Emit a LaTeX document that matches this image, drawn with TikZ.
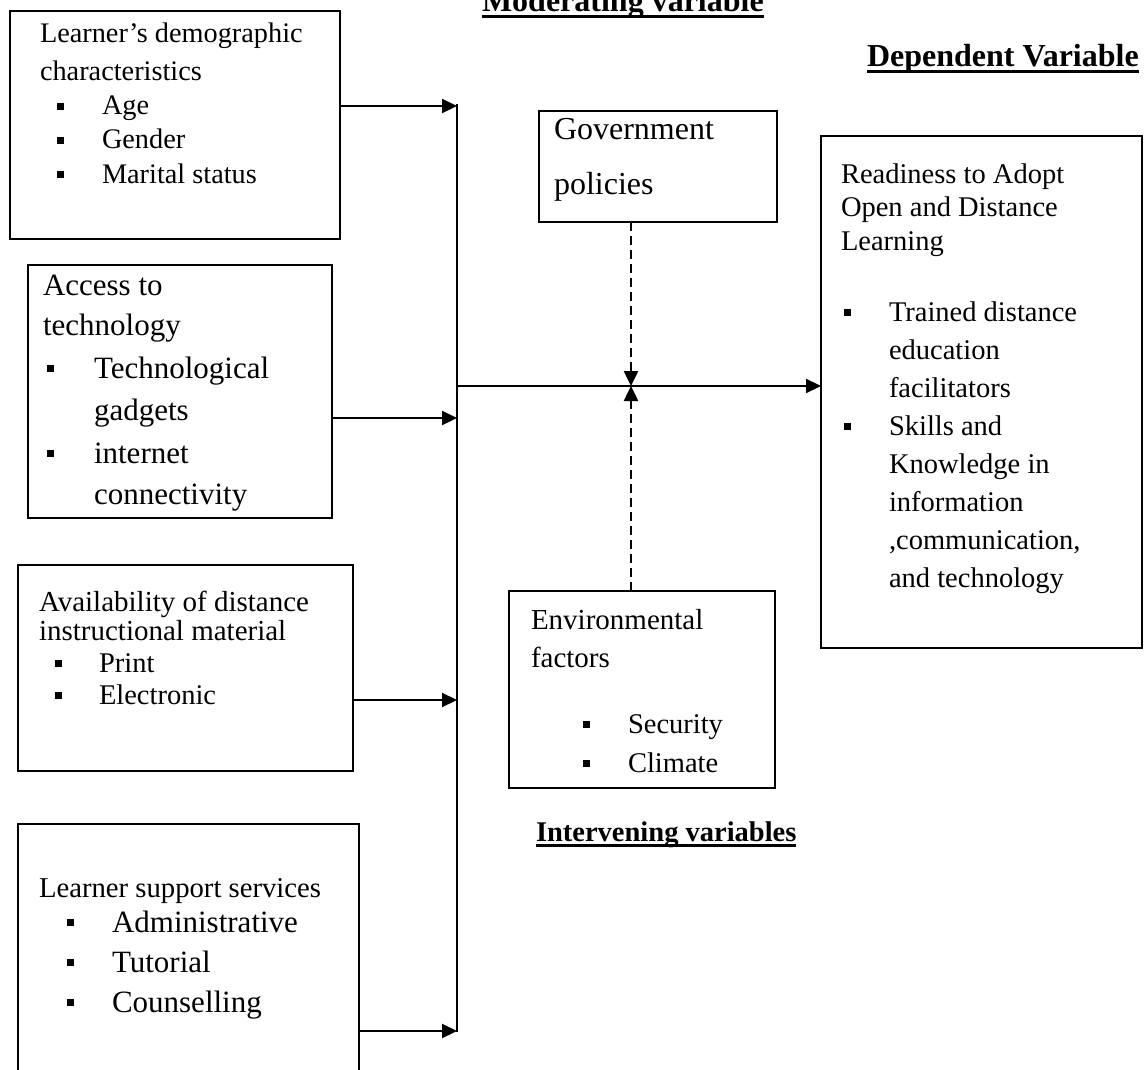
\documentclass[tikz,border=0pt]{standalone}
\usepackage{fontspec}
\setmainfont{Liberation Serif}
\usetikzlibrary{arrows.meta}
\newcommand\fs[1]{\fontsize{#1}{#1}\selectfont}
\newcommand\bsq[3]{\fill ({#1-3.5},{#2-0.3*#3-3.5}) rectangle ({#1+3.5},{#2-0.3*#3+3.5});}
\tikzset{
  box/.style={draw, line width=2pt, inner sep=0pt, outer sep=0pt, anchor=north west},
  txt/.style={anchor=base west, inner sep=0pt, outer sep=0pt},
  head/.style={txt, font=\bfseries\fs{32}},
  arr/.style={line width=2.2pt, -{Triangle[length=15pt,width=14pt]}},
  darr/.style={arr, line width=2.5pt, dash pattern=on 9pt off 5pt},
  uline/.style={line width=3pt}
}
\begin{document}
\begin{tikzpicture}[x=1pt,y=-1pt]
\useasboundingbox (0,0) rectangle (1144,1070);
% headings
\node[head] (hmod) at (482,12) {Moderating variable};
\draw[uline] ([yshift=-4.5pt]hmod.base west) -- ([yshift=-4.5pt]hmod.base east);
\node[head] (hdep) at (867,67) {Dependent Variable};
\draw[uline] ([yshift=-4.5pt]hdep.base west) -- ([yshift=-4.5pt]hdep.base east);
\node[head, font=\bfseries\fs{28.5}] (hint) at (536,841) {Intervening variables};
\draw[uline] ([yshift=-4.5pt]hint.base west) -- ([yshift=-4.5pt]hint.base east);

% boxes
\node[box, minimum width=330pt, minimum height=228pt] (b1) at (10,11) {};
\node[box, minimum width=304pt, minimum height=253pt] (b2) at (28,265) {};
\node[box, minimum width=335pt, minimum height=206pt] (b3) at (18,565) {};
\node[box, minimum width=341pt, minimum height=280pt] (b4) at (18,824) {};
\node[box, line width=2.4pt, minimum width=238pt, minimum height=111pt] (gov) at (539,111) {};
\node[box, line width=2.4pt, minimum width=266pt, minimum height=197pt] (env) at (509,591) {};
\node[box, line width=1.4pt, minimum width=321pt, minimum height=512pt] (rb) at (821,136) {};

% box 1 text
\node[txt, font=\fs{28.3}] (t1a) at (40,43) {Learner’s demographic};
\node[txt, font=\fs{28.3}] (t1b) at (40,81) {characteristics};
\node[txt, font=\fs{28.3}] (t1c) at (102,115) {Age};
\node[txt, font=\fs{28.3}] (t1d) at (102,149) {Gender};
\node[txt, font=\fs{28.3}] (t1e) at (102,183) {Marital status};
\bsq{60}{115}{28.3}\bsq{60}{149}{28.3}\bsq{60}{183}{28.3}

% box 2 text
\node[txt, font=\fs{31}] (t2a) at (43,295) {Access to};
\node[txt, font=\fs{31}] (t2b) at (43,335) {technology};
\node[txt, font=\fs{31}] (t2c) at (94,378) {Technological};
\node[txt, font=\fs{31}] (t2d) at (94,420) {gadgets};
\node[txt, font=\fs{31}] (t2e) at (94,463) {internet};
\node[txt, font=\fs{31}] (t2f) at (94,504) {connectivity};
\bsq{50}{378}{31}\bsq{50}{463}{31}

% box 3 text
\node[txt, font=\fs{29}] (t3a) at (39,611) {Availability of distance};
\node[txt, font=\fs{29}] (t3b) at (39,640) {instructional material};
\node[txt, font=\fs{28.5}] (t3c) at (99,672) {Print};
\node[txt, font=\fs{28.5}] (t3d) at (99,704) {Electronic};
\bsq{58}{672}{28.5}\bsq{58}{704}{28.5}

% box 4 text
\node[txt, font=\fs{28.7}] (t4a) at (39,897) {Learner support services};
\node[txt, font=\fs{31}] (t4b) at (112,932) {Administrative};
\node[txt, font=\fs{31}] (t4c) at (112,972) {Tutorial};
\node[txt, font=\fs{31}] (t4d) at (112,1012) {Counselling};
\bsq{70}{932}{31}\bsq{70}{972}{31}\bsq{70}{1012}{31}

% government
\node[txt, font=\fs{32}] (tga) at (554,140) {Government};
\node[txt, font=\fs{32}] (tgb) at (554,195) {policies};

% environmental
\node[txt, font=\fs{29}] (tea) at (531,629) {Environmental};
\node[txt, font=\fs{29}] (teb) at (531,667) {factors};
\node[txt, font=\fs{28.5}] (tec) at (628,733) {Security};
\node[txt, font=\fs{28.5}] (ted) at (628,772) {Climate};
\bsq{586}{733}{28.5}\bsq{586}{772}{28.5}

% readiness
\node[txt, font=\fs{28.5}] (tra) at (841,183) {Readiness to Adopt};
\node[txt, font=\fs{28.5}] (trb) at (841,217) {Open and Distance};
\node[txt, font=\fs{28.5}] (trc) at (841,251) {Learning};
\node[txt, font=\fs{28.5}] (trd) at (889,321) {Trained distance};
\node[txt, font=\fs{28.5}] (tre) at (889,359) {education};
\node[txt, font=\fs{28.5}] (trf) at (889,397) {facilitators};
\node[txt, font=\fs{28.5}] (trg) at (889,435) {Skills and};
\node[txt, font=\fs{28.5}] (trh) at (889,473) {Knowledge in};
\node[txt, font=\fs{28.5}] (tri) at (889,511) {information};
\node[txt, font=\fs{28.5}] (trj) at (889,549) {,communication,};
\node[txt, font=\fs{28.5}] (trk) at (889,587) {and technology};
\bsq{847}{321}{28.5}\bsq{847}{435}{28.5}

% connectors
\coordinate (vtop) at (457,104);
\coordinate (j1) at (457,106);
\coordinate (j2) at (457,418);
\coordinate (j3) at (457,700);
\coordinate (j4) at (457,1031);
\coordinate (vbot) at (457,1032);
\coordinate (hub) at (456,386);
\coordinate (m) at (631,386);
\draw[line width=2pt] (vtop) -- (vbot);
\draw[arr] (b1.east |- j1) -- (j1);
\draw[arr] (b2.east |- j2) -- (j2);
\draw[arr] (b3.east |- j3) -- (j3);
\draw[arr] (b4.east |- j4) -- (j4);
\draw[arr] (hub) -- (rb.west |- hub);
\draw[darr] (gov.south -| m) -- (m);
\draw[darr] (env.north -| m) -- (m);
\end{tikzpicture}
\end{document}
